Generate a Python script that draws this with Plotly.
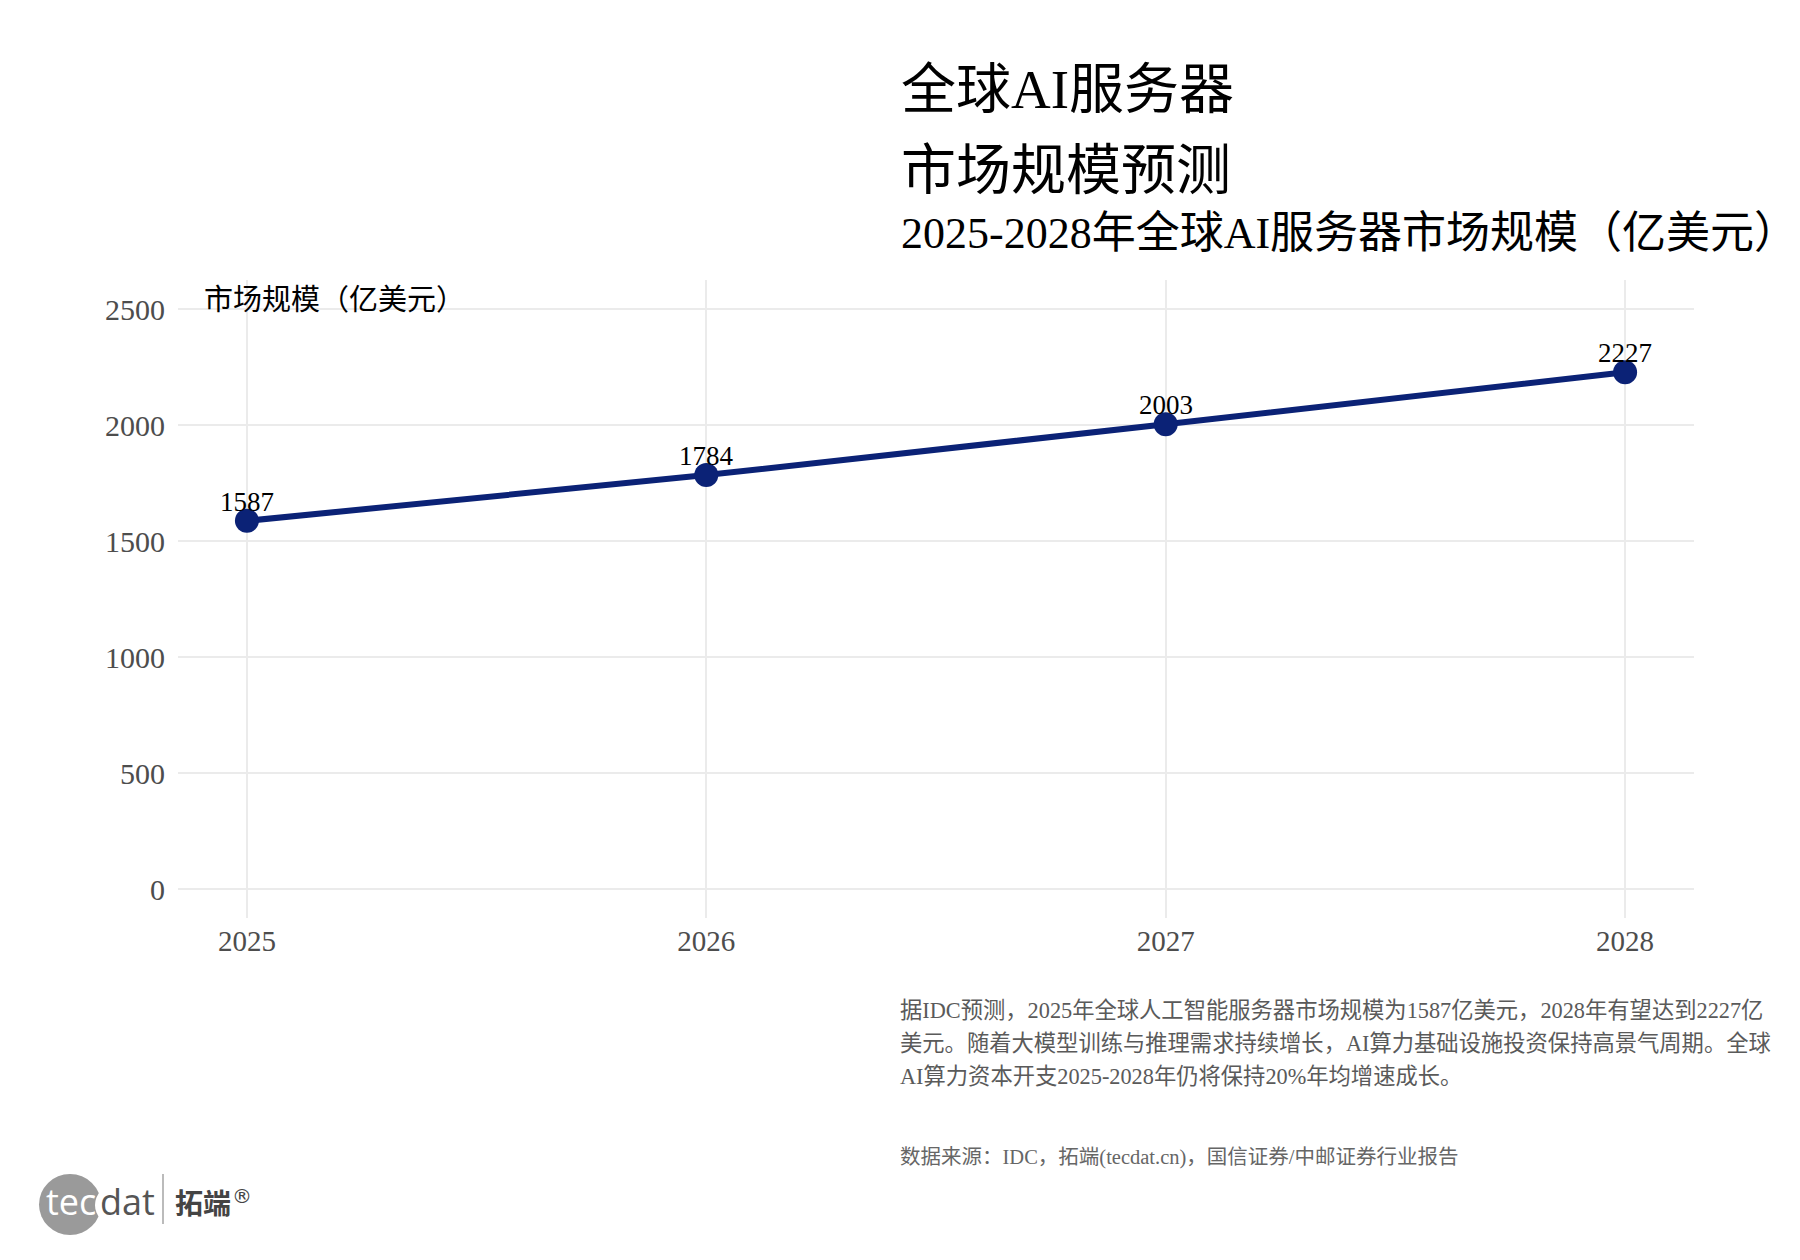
import plotly.graph_objects as go

# ---- data ----
years = [2025, 2026, 2027, 2028]
market_size = [1587, 1784, 2003, 2227]
y_ticks = [0, 500, 1000, 1500, 2000, 2500]

title_line1 = "全球AI服务器"
title_line2 = "市场规模预测"
subtitle = "2025-2028年全球AI服务器市场规模（亿美元）"
y_title = "市场规模（亿美元）"
caption_lines = [
    "据IDC预测，2025年全球人工智能服务器市场规模为1587亿美元，2028年有望达到2227亿",
    "美元。随着大模型训练与推理需求持续增长，AI算力基础设施投资保持高景气周期。全球",
    "AI算力资本开支2025-2028年仍将保持20%年均增速成长。",
]
source = "数据来源：IDC，拓端(tecdat.cn)，国信证券/中邮证券行业报告"

# ---- layout geometry (pixels) ----
FIG_W, FIG_H = 1800, 1260
L, T, R, B = 178, 280, 106, 342
W = FIG_W - L - R
H = FIG_H - T - B

def px(X):
    return (X - L) / W

def py(Y):
    return (T + H - Y) / H

FONT = "Liberation Serif, Noto Sans CJK SC, serif"
NAVY = "#0b2276"

fig = go.Figure()
fig.add_trace(go.Scatter(
    x=years, y=market_size, mode="lines+markers",
    line=dict(color=NAVY, width=6),
    marker=dict(color=NAVY, size=24),
    hoverinfo="skip", showlegend=False,
))

annotations = []
for xv, yv in zip(years, market_size):
    annotations.append(dict(
        x=xv, y=yv, xref="x", yref="y", text=str(yv), showarrow=False,
        yshift=19, xanchor="center", yanchor="middle",
        font=dict(family=FONT, size=27, color="#000000"),
    ))

def ptext(text, X, Y, size, color, xanchor="left", family=FONT, yanchor="middle"):
    annotations.append(dict(
        x=px(X), y=py(Y), xref="paper", yref="paper", text=text,
        showarrow=False, xanchor=xanchor, yanchor=yanchor,
        font=dict(family=family, size=size, color=color),
    ))

ptext(title_line1, 899, 90, 55, "#000000")
ptext(title_line2, 899, 170, 55, "#000000")
ptext(subtitle, 899, 233, 44, "#000000")
ptext(y_title, 202, 300, 29, "#000000")
for i, line in enumerate(caption_lines):
    ptext(line, 898, [1010, 1043, 1076][i], 22.3, "#5a5a5a")
ptext(source, 898, 1157, 20.5, "#666666")

# logo
shapes = [
    dict(type="circle", xref="paper", yref="paper",
         x0=px(39), x1=px(101), y0=py(1235), y1=py(1174),
         fillcolor="#9a9a9a", line=dict(width=0), layer="above"),
    dict(type="circle", xref="paper", yref="paper",
         x0=px(95), x1=px(131), y0=py(1224), y1=py(1186),
         fillcolor="#ffffff", line=dict(width=0), layer="above"),
    dict(type="line", xref="paper", yref="paper",
         x0=px(163), x1=px(163), y0=py(1174), y1=py(1224),
         line=dict(color="#bbbbbb", width=2), layer="above"),
]
ptext("tec", 71, 1201, 36, "#ffffff", xanchor="center", family="Open Sans, sans-serif")
ptext("dat", 127, 1201, 36, "#555555", xanchor="center", family="Open Sans, sans-serif")
ptext("<b>拓端</b>", 173, 1202, 28, "#444444", family="Noto Sans CJK SC")
ptext("®", 230, 1196, 20, "#444444", family="DejaVu Sans")

fig.update_layout(
    width=FIG_W, height=FIG_H,
    margin=dict(l=L, r=R, t=T, b=B, autoexpand=False),
    paper_bgcolor="#ffffff", plot_bgcolor="#ffffff",
    annotations=annotations, shapes=shapes,
    showlegend=False,
    xaxis=dict(
        range=[2024.85, 2028.15], tickvals=years, ticktext=[str(y) for y in years],
        showgrid=True, gridcolor="#ebebeb", gridwidth=2, zeroline=False,
        showline=False, ticks="", ticklabelstandoff=3,
        tickfont=dict(family=FONT, size=29, color="#4d4d4d"),
        fixedrange=True,
    ),
    yaxis=dict(
        range=[-125, 2625], tickvals=y_ticks, ticktext=[str(v) for v in y_ticks],
        showgrid=True, gridcolor="#ebebeb", gridwidth=2, zeroline=False,
        showline=False, ticks="", ticklabelstandoff=12,
        tickfont=dict(family=FONT, size=30, color="#4d4d4d"),
        fixedrange=True,
    ),
)

fig.write_html("out.html", config={"displayModeBar": False})
